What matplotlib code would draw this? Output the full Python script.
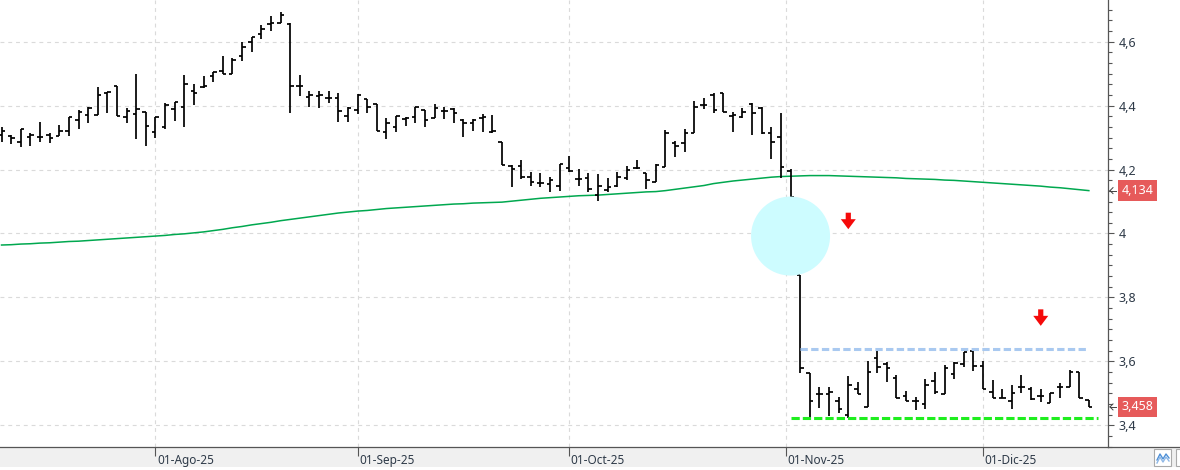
import numpy as np
import pandas as pd
import matplotlib
matplotlib.use('Agg')
import matplotlib.pyplot as plt
import matplotlib.patches as mpatches
from matplotlib.lines import Line2D
from matplotlib.collections import LineCollection
from matplotlib.transforms import IdentityTransform, blended_transform_factory, ScaledTranslation
from matplotlib.ticker import FixedLocator, MultipleLocator, FuncFormatter

plt.rcParams['font.family'] = ['Noto Sans', 'DejaVu Sans']

# ---------------- data ----------------
dates = pd.bdate_range('2025-07-10', '2025-12-16')

opens = [4.308, 4.305, 4.287, 4.302, 4.301, 4.308, 4.305, 4.320, 4.354, 4.369,
         4.369, 4.438, 4.461, 4.363, 4.373, 4.379, 4.318, 4.334, 4.388, 4.394,
         4.446, 4.459, 4.491, 4.507, 4.498, 4.554, 4.599, 4.623, 4.654, 4.657,
         4.654, 4.461, 4.428, 4.430, 4.423, 4.423, 4.368, 4.386, 4.419, 4.405,
         4.316, 4.332, 4.357, 4.363, 4.386, 4.360, 4.384, 4.388, 4.355, 4.346,
         4.360, 4.318, 4.287, 4.211, 4.211, 4.176, 4.157, 4.155, 4.148, 4.204,
         4.169, 4.172, 4.120, 4.136, 4.148, 4.172, 4.204, 4.190, 4.162, 4.209,
         4.284, 4.282, 4.313, 4.402, 4.433, 4.440, 4.367, 4.363, 4.405, 4.391,
         4.313, 4.302, 4.196, 3.870, 3.565, 3.498, 3.498, 3.477, 3.433, 3.513,
         3.457, 3.610, 3.592, 3.548, 3.492, 3.477, 3.466, 3.540, 3.498, 3.560,
         3.591, 3.633, 3.586, 3.506, 3.487, 3.477, 3.521, 3.513, 3.492, 3.471,
         3.521, 3.521, 3.568, 3.479]
highs = [4.334, 4.308, 4.327, 4.315, 4.348, 4.315, 4.338, 4.363, 4.386, 4.394,
         4.459, 4.442, 4.461, 4.391, 4.498, 4.381, 4.363, 4.409, 4.410, 4.495,
         4.466, 4.492, 4.506, 4.555, 4.549, 4.598, 4.613, 4.652, 4.680, 4.691,
         4.657, 4.494, 4.446, 4.446, 4.446, 4.438, 4.396, 4.436, 4.419, 4.405,
         4.360, 4.367, 4.363, 4.394, 4.386, 4.405, 4.394, 4.391, 4.357, 4.357,
         4.373, 4.370, 4.287, 4.214, 4.230, 4.193, 4.190, 4.178, 4.217, 4.242,
         4.201, 4.188, 4.186, 4.173, 4.193, 4.211, 4.230, 4.190, 4.217, 4.323,
         4.289, 4.326, 4.414, 4.423, 4.440, 4.440, 4.381, 4.391, 4.409, 4.396,
         4.332, 4.376, 4.201, 3.870, 3.565, 3.521, 3.521, 3.490, 3.555, 3.535,
         3.603, 3.634, 3.599, 3.558, 3.508, 3.490, 3.544, 3.566, 3.589, 3.599,
         3.631, 3.633, 3.602, 3.542, 3.513, 3.527, 3.558, 3.521, 3.513, 3.503,
         3.534, 3.573, 3.568, 3.479]
lows = [4.287, 4.280, 4.269, 4.273, 4.287, 4.282, 4.305, 4.305, 4.328, 4.346,
        4.369, 4.378, 4.367, 4.346, 4.295, 4.273, 4.299, 4.326, 4.352, 4.334,
        4.401, 4.454, 4.473, 4.498, 4.498, 4.539, 4.568, 4.607, 4.634, 4.657,
        4.378, 4.431, 4.394, 4.391, 4.407, 4.349, 4.349, 4.372, 4.376, 4.321,
        4.294, 4.316, 4.336, 4.344, 4.332, 4.360, 4.357, 4.346, 4.303, 4.321,
        4.318, 4.313, 4.214, 4.146, 4.169, 4.148, 4.146, 4.131, 4.134, 4.193,
        4.148, 4.131, 4.102, 4.131, 4.146, 4.167, 4.201, 4.138, 4.162, 4.207,
        4.240, 4.256, 4.313, 4.388, 4.378, 4.381, 4.318, 4.360, 4.308, 4.311,
        4.232, 4.173, 4.115, 3.563, 3.426, 3.454, 3.430, 3.438, 3.422, 3.498,
        3.457, 3.563, 3.537, 3.485, 3.477, 3.449, 3.452, 3.498, 3.498, 3.544,
        3.582, 3.571, 3.513, 3.485, 3.485, 3.451, 3.501, 3.480, 3.474, 3.469,
        3.485, 3.521, 3.487, 3.458]
closes = [4.320, 4.297, 4.327, 4.307, 4.301, 4.297, 4.320, 4.363, 4.379, 4.391,
          4.433, 4.442, 4.367, 4.384, 4.388, 4.337, 4.363, 4.402, 4.410, 4.467,
          4.438, 4.461, 4.505, 4.498, 4.542, 4.582, 4.613, 4.640, 4.657, 4.683,
          4.461, 4.461, 4.433, 4.433, 4.423, 4.383, 4.391, 4.433, 4.396, 4.321,
          4.346, 4.367, 4.360, 4.394, 4.355, 4.391, 4.384, 4.376, 4.346, 4.355,
          4.365, 4.321, 4.214, 4.201, 4.177, 4.162, 4.157, 4.167, 4.217, 4.196,
          4.169, 4.138, 4.148, 4.146, 4.177, 4.198, 4.204, 4.167, 4.214, 4.314,
          4.273, 4.313, 4.396, 4.402, 4.386, 4.381, 4.370, 4.381, 4.377, 4.315,
          4.287, 4.207, 4.115, 3.579, 3.478, 3.498, 3.506, 3.451, 3.527, 3.498,
          3.566, 3.582, 3.579, 3.485, 3.477, 3.475, 3.527, 3.506, 3.579, 3.594,
          3.629, 3.586, 3.513, 3.485, 3.485, 3.503, 3.521, 3.482, 3.492, 3.503,
          3.521, 3.568, 3.487, 3.458]
ma200 = [3.964, 3.965, 3.967, 3.968, 3.970, 3.971, 3.973, 3.975, 3.976, 3.978,
         3.980, 3.982, 3.984, 3.986, 3.988, 3.990,
         3.992, 3.994, 3.997, 3.999, 4.002,
         4.005, 4.009, 4.013, 4.018, 4.022,
         4.027, 4.031, 4.035, 4.040, 4.044,
         4.048, 4.052, 4.056, 4.060, 4.064,
         4.067, 4.070, 4.072, 4.075, 4.078,
         4.080, 4.082, 4.084, 4.086, 4.088, 4.090,
         4.092, 4.093, 4.095, 4.096, 4.097,
         4.098, 4.101, 4.104, 4.107, 4.110,
         4.112, 4.114, 4.116, 4.118, 4.119, 4.120,
         4.122, 4.124, 4.126, 4.128, 4.130, 4.131,
         4.134, 4.138, 4.142, 4.146, 4.150,
         4.156, 4.160, 4.164, 4.167, 4.170,
         4.173, 4.176, 4.178, 4.179,
         4.180, 4.181, 4.181, 4.181, 4.180, 4.179, 4.178, 4.177, 4.176,
         4.175, 4.174, 4.172, 4.171, 4.170, 4.169, 4.167, 4.166, 4.164, 4.162,
         4.160, 4.158, 4.156, 4.154, 4.152, 4.150, 4.148, 4.145, 4.143, 4.140,
         4.137, 4.134]

month_starts = ['2025-08-01', '2025-09-01', '2025-10-01', '2025-11-01', '2025-12-01']
month_labels = ['01-Ago-25', '01-Sep-25', '01-Oct-25', '01-Nov-25', '01-Dic-25']
y_ticks = [3.4, 3.6, 3.8, 4.0, 4.2, 4.4, 4.6]

resistance_level = 3.638
resistance_span = ('2025-11-04', '2025-12-16')
support_level = 3.422
support_span = ('2025-11-03', '2025-12-16')

gap_circle = ('2025-11-03', 3.992)
arrows = [('2025-11-11', 4.065), ('2025-12-09', 3.763)]

# ---------------- figure ----------------
W, H = 1180, 470
fig = plt.figure(figsize=(W / 100, H / 100), dpi=100)
fig.patch.set_facecolor('white')
ax = fig.add_axes([0, 23 / H, 1108 / W, 447 / H])

n = len(dates)
xi = np.arange(n)

def xpos(datestr):
    d = pd.Timestamp(datestr)
    i = int(np.searchsorted(dates, d))
    if i < n and dates[i] != d:
        return i - 0.5
    return i

ax.set_xlim(-0.16, 114.99)
ax.set_ylim(3.3328, 4.7297)

# moving average
ax.plot(xi, ma200, color='#00a84f', lw=1.1, zorder=2)

# OHLC bars
tw = 0.36
segs = []
for i in range(n):
    segs.append([(i, lows[i]), (i, highs[i])])
    segs.append([(i - tw, opens[i]), (i, opens[i])])
    segs.append([(i, closes[i]), (i + tw, closes[i])])
ax.add_collection(LineCollection(segs, colors='black', linewidths=1.25, zorder=3,
                                 capstyle='butt'))

# support / resistance
ax.hlines(resistance_level, xpos(resistance_span[0]), xpos(resistance_span[1]) - 0.2,
          colors='#a9c9f0', lw=2.2, linestyles=[(0, (2.4, 1.1))], zorder=4)
ax.hlines(support_level, xpos(support_span[0]), xpos(support_span[1]) + 0.9,
          colors='#1fee1f', lw=2.2, linestyles=[(0, (2.7, 1.0))], zorder=4)

# gap circle (pixel radius)
cx, cy = ax.transData.transform((xpos(gap_circle[0]), gap_circle[1]))
ax.add_patch(mpatches.Circle((cx, cy), 39.5, transform=IdentityTransform(),
                             facecolor='#cdfcff', edgecolor='none', zorder=5))

# red arrows
for d, yv in arrows:
    px, py = ax.transData.transform((xpos(d), yv))
    verts = [(px - 2.6, py), (px + 2.6, py), (px + 2.6, py - 6.5), (px + 7.5, py - 6.5),
             (px, py - 16.5), (px - 7.5, py - 6.5), (px - 2.6, py - 6.5)]
    ax.add_patch(mpatches.Polygon(verts, closed=True, transform=IdentityTransform(),
                                  facecolor='#f50a0a', edgecolor='none', zorder=6))

# grid & axes styling
ax.set_axisbelow(True)
ax.set_xticks([xpos(m) for m in month_starts])
ax.set_xticklabels(month_labels, ha='left')
ax.yaxis.tick_right()
ax.yaxis.set_major_locator(FixedLocator(y_ticks))
ax.yaxis.set_minor_locator(MultipleLocator(1 / 30))
ax.yaxis.set_major_formatter(FuncFormatter(lambda v, p: f'{v:g}'.replace('.', ',')))
ax.grid(True, which='major', color='#dadada', linestyle=(0, (3.5, 3.5)), lw=0.8)
for s in ['left', 'top']:
    ax.spines[s].set_visible(False)
for s in ['right', 'bottom']:
    ax.spines[s].set_color('#555555')
    ax.spines[s].set_linewidth(0.9)
ax.tick_params(axis='y', which='major', length=4.5, width=0.8, color='#555555',
               labelsize=9, labelcolor='#2e3a48', pad=3)
ax.tick_params(axis='y', which='minor', length=2.6, width=0.8, color='#555555')
ax.tick_params(axis='x', which='major', length=6.5, width=0.8, color='#555555',
               labelsize=8.5, labelcolor='#2e3a48', pad=-1.8)
for lbl in ax.get_xticklabels():
    lbl.set_transform(lbl.get_transform() + ScaledTranslation(1.5 / 100, 0, fig.dpi_scale_trans))

# value boxes on the right axis
trans = blended_transform_factory(ax.transAxes, ax.transData)
for val in [ma200[-1], closes[-1]]:
    ax.text(1.0125, val, f'{val:.3f}'.replace('.', ','), transform=trans, ha='left',
            va='center', color='white', fontsize=9, clip_on=False, zorder=10,
            bbox=dict(boxstyle='square,pad=0.3', fc='#e65a5a', ec='none'))
    vx, vy = ax.transData.transform((0, val))
    x0 = 1110
    for xs, ys in [([x0, x0 + 6], [vy, vy]), ([x0, x0 + 3], [vy, vy + 3]), ([x0, x0 + 3], [vy, vy - 3])]:
        fig.add_artist(Line2D(xs, ys, transform=IdentityTransform(), color='#444444', lw=0.7))

# bottom strip
fig.add_artist(mpatches.Rectangle((0, 3 / H), 1, 20 / H, transform=fig.transFigure,
                                  facecolor='#f0f0f0', edgecolor='none', zorder=-5))
fig.add_artist(Line2D([1108 / W, 1], [23 / H, 23 / H], transform=fig.transFigure,
                      color='#555555', lw=0.9))
# small toolbar buttons at the bottom right
fig.add_artist(mpatches.Rectangle((1154, 4), 17, 17, transform=IdentityTransform(),
                                  facecolor='white', edgecolor='#aaaaaa', lw=0.8))
fig.add_artist(mpatches.Rectangle((1176, 4), 17, 17, transform=IdentityTransform(),
                                  facecolor='white', edgecolor='#aaaaaa', lw=0.8))
fig.add_artist(Line2D([1157, 1160, 1163, 1166, 1169], [10, 16, 11, 16, 12],
                      transform=IdentityTransform(), color='#4d8fd6', lw=1.0))
fig.add_artist(Line2D([1157, 1160, 1163, 1166, 1169], [7, 13, 8, 13, 9],
                      transform=IdentityTransform(), color='#8fb8e6', lw=1.0))

fig.savefig('out.png', dpi=100, facecolor='white')
